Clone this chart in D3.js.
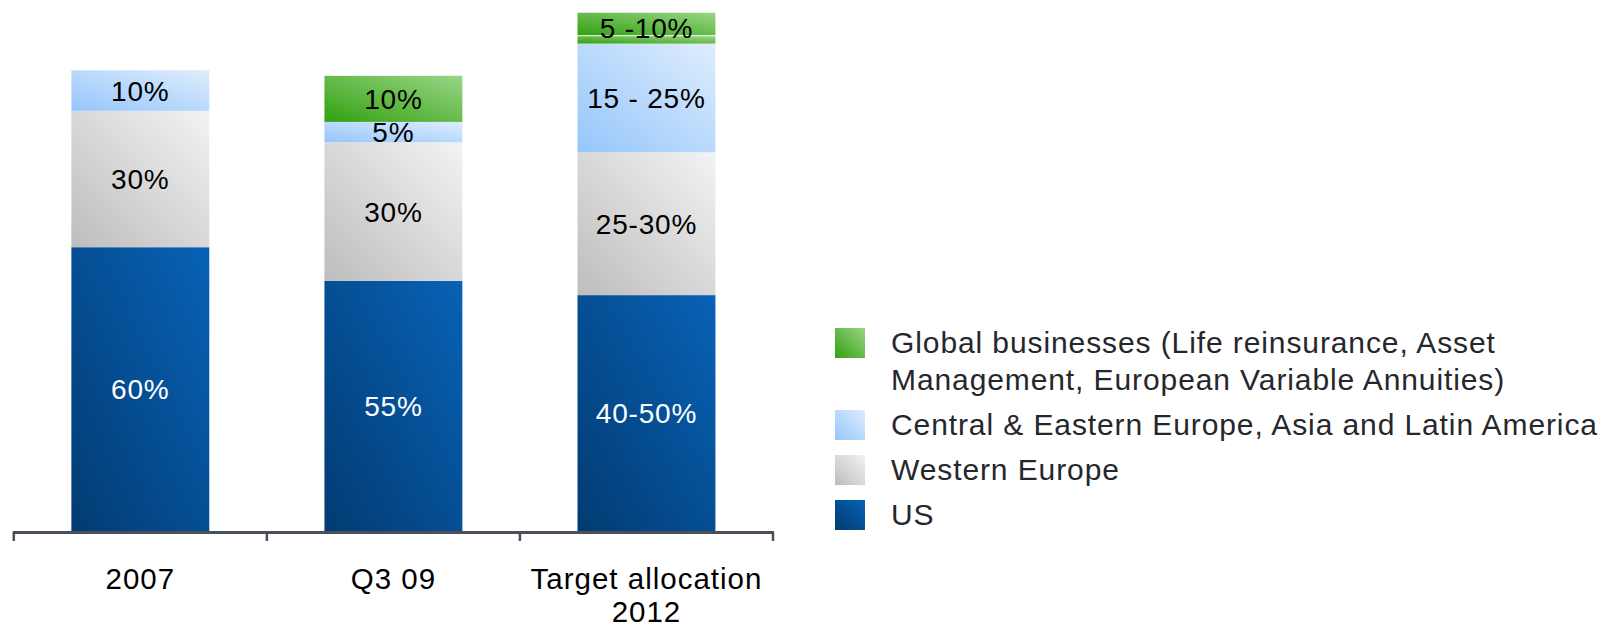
<!DOCTYPE html>
<html>
<head>
<meta charset="utf-8">
<script src="https://cdn.jsdelivr.net/npm/d3@7"></script>
<style>
  html, body { margin: 0; padding: 0; background: #fff; }
  svg { display: block; font-family: 'Liberation Sans', Arial, Helvetica, sans-serif; }
</style>
</head>
<body>
<svg id="chart"></svg>
<script>
// data (share of the bar height, in %)
const categories = ['2007', 'Q3 09', 'Target allocation 2012']
const categoryLines = [['2007'], ['Q3 09'], ['Target allocation', '2012']]

const seriesKeys = ['us', 'westernEurope', 'ceeAsiaLatam', 'global', 'globalUpper']
const usValues = [61.6, 54.3, 51.2]
const westernEuropeValues = [29.6, 30.1, 31.0]
const ceeValues = [8.8, 4.4, 23.6]
const globalValues = [0, 10.0, 1.6]
const globalUpperValues = [0, 0, 5.1]

const usLabels = ['60%', '55%', '40-50%']
const westernEuropeLabels = ['30%', '30%', '25-30%']
const ceeLabels = ['10%', '5%', '15 - 25%']
const globalLabels = ['', '10%', '5 -10%']

const legendKeys = ['global', 'ceeAsiaLatam', 'westernEurope', 'us']
const legendLines = [
  ['Global businesses (Life reinsurance, Asset', 'Management, European Variable Annuities)'],
  ['Central & Eastern Europe, Asia and Latin America'],
  ['Western Europe'],
  ['US']
]

const color = {
  us: ['#023b72', '#0862b6'],
  westernEurope: ['#bdbdbd', '#f3f3f3'],
  ceeAsiaLatam: ['#96c6fb', '#deedfd'],
  global: ['#32a110', '#9ad586'],
  axis: '#4b4f59',
  legendText: '#26272d'
}

const width = 1617
const height = 627

const svg = d3.select('#chart').attr('width', width).attr('height', height)

// gradients, dark bottom-left to light top-right
const defs = svg.append('defs')
Object.keys(color).filter((k) => Array.isArray(color[k])).forEach((k) => {
  const g = defs.append('linearGradient')
    .attr('id', 'grad-' + k)
    .attr('x1', 0).attr('y1', 1).attr('x2', 1).attr('y2', 0)
  g.append('stop').attr('offset', '0%').attr('stop-color', color[k][0])
  g.append('stop').attr('offset', '100%').attr('stop-color', color[k][1])
})
const fillFor = (key) => 'url(#grad-' + (key === 'globalUpper' ? 'global' : key) + ')'

const rows = categories.map((c, i) => ({
  category: c,
  us: usValues[i],
  westernEurope: westernEuropeValues[i],
  ceeAsiaLatam: ceeValues[i],
  global: globalValues[i],
  globalUpper: globalUpperValues[i]
}))

const stacked = d3.stack().keys(seriesKeys)(rows)

const x = d3.scaleBand().domain(categories).range([13.8, 773]).padding(0)
const barWidth = x.bandwidth() * 0.545
const y = d3.scaleLinear().domain([0, 100]).range([531, 70.3])

// bars
const layer = svg.append('g').attr('class', 'bars')
layer.selectAll('g.series')
  .data(stacked)
  .enter()
  .append('g')
  .attr('class', 'series')
  .attr('fill', (s) => fillFor(s.key))
  .selectAll('rect')
  .data((s) => s.map((d) => Object.assign(d, { key: s.key })))
  .enter()
  .filter((d) => d[1] - d[0] > 0)
  .append('rect')
  .attr('x', (d) => x(d.data.category) + (x.bandwidth() - barWidth) / 2)
  .attr('width', barWidth)
  .attr('y', (d) => y(d[1]))
  // the upper green piece sits on a thin white seam
  .attr('height', (d) => y(d[0]) - y(d[1]) - (d.key === 'globalUpper' ? 1 : 0))

// segment labels
const labelSets = [
  { key: 'us', labels: usLabels, fill: '#fff' },
  { key: 'westernEurope', labels: westernEuropeLabels, fill: '#000' },
  { key: 'ceeAsiaLatam', labels: ceeLabels, fill: '#000' },
  { key: 'global', labels: globalLabels, fill: '#000', topKey: 'globalUpper' }
]
const byKey = {}
stacked.forEach((s) => (byKey[s.key] = s))

labelSets.forEach((set) => {
  const base = byKey[set.key]
  const top = byKey[set.topKey || set.key]
  svg.append('g')
    .selectAll('text')
    .data(categories)
    .enter()
    .filter((c, i) => set.labels[i] !== '')
    .append('text')
    .attr('x', (c) => x(c) + x.bandwidth() / 2)
    .attr('y', (c) => {
      const i = categories.indexOf(c)
      return (y(base[i][0]) + y(top[i][1])) / 2
    })
    .attr('dy', '0.36em')
    .attr('text-anchor', 'middle')
    .attr('fill', set.fill)
    .style('font-size', '28px')
    .style('letter-spacing', '0.8px')
    .text((c) => set.labels[categories.indexOf(c)])
})

// axis: base line with ticks on the band edges
const axisY = 532.5
const tickXs = categories.map((c) => x(c)).concat([x.range()[1]])
const axis = svg.append('g').attr('class', 'axis')
axis.append('line')
  .attr('x1', x.range()[0] - 1).attr('x2', x.range()[1] + 1)
  .attr('y1', axisY).attr('y2', axisY)
  .attr('stroke', color.axis).attr('stroke-width', 3)
axis.selectAll('line.tick')
  .data(tickXs)
  .enter()
  .append('line')
  .attr('class', 'tick')
  .attr('x1', (d) => d).attr('x2', (d) => d)
  .attr('y1', axisY).attr('y2', 541)
  .attr('stroke', color.axis).attr('stroke-width', 2.5)

axis.selectAll('text.cat')
  .data(categories)
  .enter()
  .append('text')
  .attr('class', 'cat')
  .attr('x', (c) => x(c) + x.bandwidth() / 2)
  .attr('y', 589)
  .attr('text-anchor', 'middle')
  .attr('fill', '#000')
  .style('font-size', '29.5px')
  .style('letter-spacing', '1px')
  .each(function (c, i) {
    d3.select(this).selectAll('tspan')
      .data(categoryLines[i])
      .enter()
      .append('tspan')
      .attr('x', x(c) + x.bandwidth() / 2)
      .attr('dy', (d, j) => (j === 0 ? 0 : 32.5))
      .text((d) => d)
  })

// legend
const legend = svg.append('g').attr('class', 'legend')
const lineStep = 37
const itemStep = 45
let baseline = 353
legendKeys.forEach((k, i) => {
  const item = legend.append('g')
  item.append('rect')
    .attr('x', 835)
    .attr('y', baseline - 25)
    .attr('width', 30)
    .attr('height', 30)
    .attr('fill', fillFor(k))
  const t = item.append('text')
    .attr('x', 891)
    .attr('y', baseline)
    .attr('fill', color.legendText)
    .style('font-size', '30px')
    .style('letter-spacing', '0.9px')
  legendLines[i].forEach((line, j) => {
    t.append('tspan').attr('x', 891).attr('dy', j === 0 ? 0 : lineStep).text(line)
  })
  baseline += (legendLines[i].length - 1) * lineStep + itemStep
})
</script>
</body>
</html>
